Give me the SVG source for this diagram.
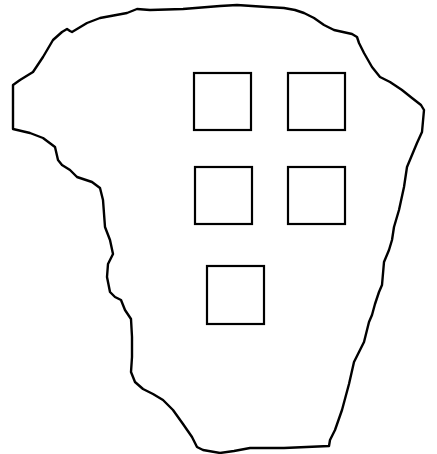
<svg xmlns="http://www.w3.org/2000/svg" width="437" height="454" viewBox="0 0 437 454">
<style>
.o{fill:none;stroke:#000;stroke-width:2.4;stroke-linejoin:round;stroke-linecap:round}
.s{fill:none;stroke:#000;stroke-width:2.2}
</style>
<rect width="437" height="454" fill="#fff"/>
<path class="o" d="M137,9 L150,10 L183,9 L220,6 L237,5 L267,7 L284,8 L295,10 L304,13 L314,18 L324,25 L334,30 L352,34 L357,37 L359,43 L364,53 L372,67 L380,77 L390,82 L402,90 L412,98 L421,105 L424,110 L422,132 L417,143 L407,167 L404,187 L399,210 L394,227 L392,240 L389,250 L384,262 L382,285 L379,292 L375,304 L372,315 L369,322 L367,330 L364,342 L359,352 L354,362 L349,384 L342,410 L335,430 L330,440 L329,446 L284,448 L250,448 L234,451 L220,453 L203,450 L197,447 L192,437 L183,424 L173,410 L163,400 L153,394 L143,389 L135,382 L131,372 L132,357 L132,337 L131,319 L125,310 L121,300 L115,297 L110,292 L107,277 L108,264 L113,254 L110,240 L105,227 L103,200 L100,188 L92,182 L77,177 L70,170 L62,165 L58,160 L55,147 L43,138 L30,133 L13,129 L13,107 L13,85 L20,80 L33,72 L43,57 L53,40 L62,32 L67,29 L70,31 L72,32 L87,23 L100,18 L127,13 Z"/>
<g id="square1"><rect class="s" x="194" y="73" width="57" height="57"/></g>
<g id="square2"><rect class="s" x="288" y="73" width="57" height="57"/></g>
<g id="square3"><rect class="s" x="195" y="167" width="57" height="57"/></g>
<g id="square4"><rect class="s" x="288" y="167" width="57" height="57"/></g>
<g id="square5"><rect class="s" x="207" y="266" width="57" height="58"/></g>
</svg>
